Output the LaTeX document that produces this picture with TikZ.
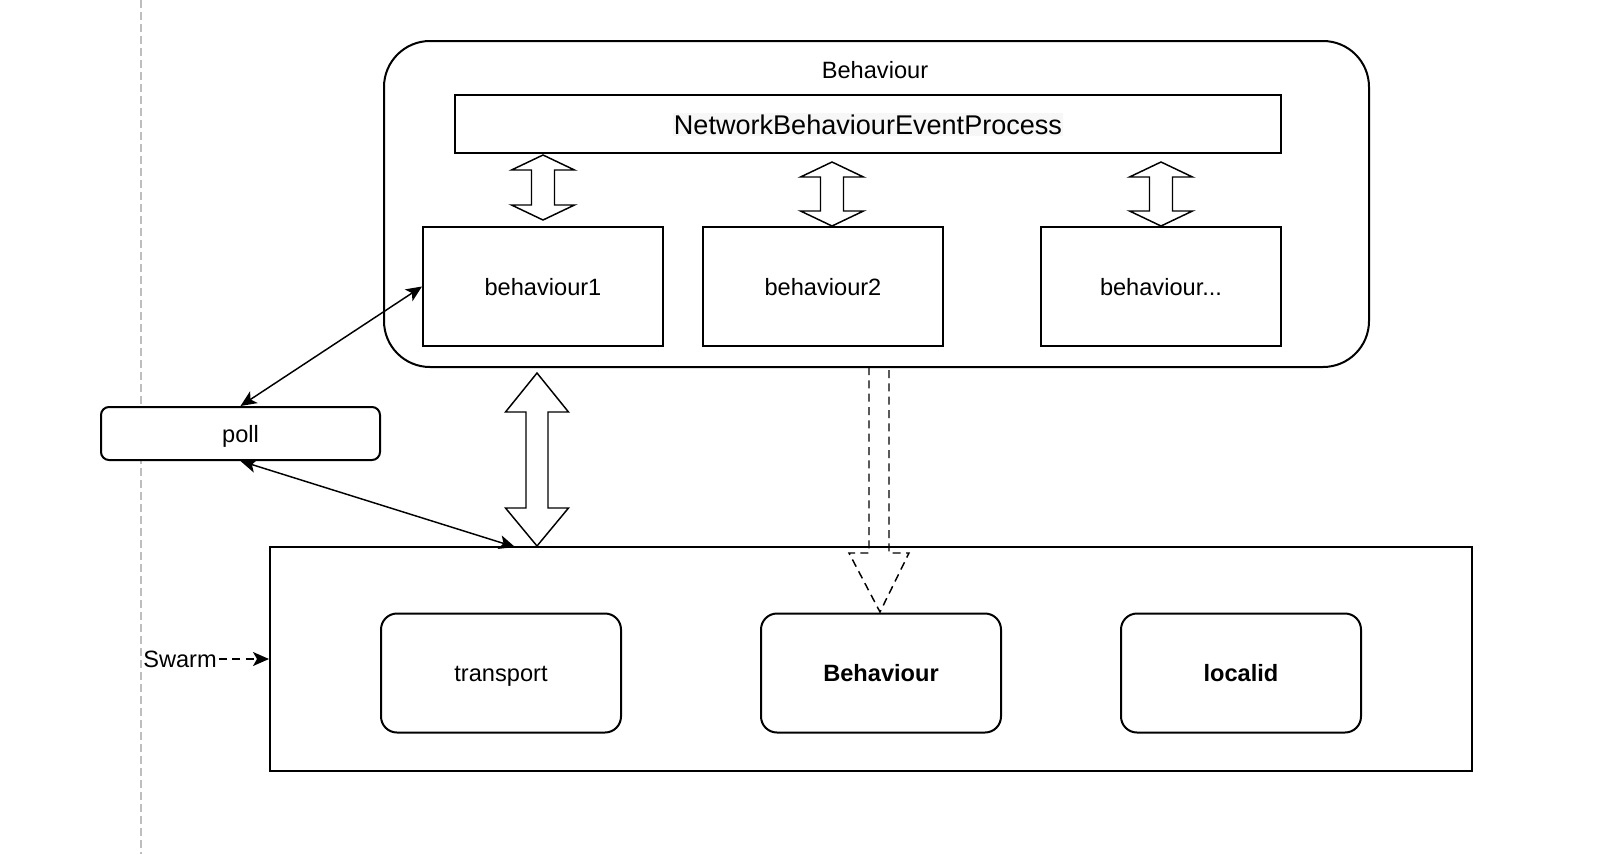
\documentclass[tikz,border=0pt]{standalone}
\usepackage{fontspec}
\setmainfont{Liberation Sans}
\usetikzlibrary{arrows.meta}
\definecolor{guidegray}{RGB}{190,190,190}
\definecolor{procbg}{RGB}{247,247,247}
\newcommand{\lblfont}{\fontsize{17.7pt}{21pt}\selectfont}
\newcommand{\procfont}{\fontsize{20.3pt}{24pt}\selectfont}

\begin{document}
\begin{tikzpicture}[x=0.75pt,y=0.75pt,yscale=-1,xscale=1,
  lbl/.style={font=\lblfont, text height=15pt, text depth=2pt},
  plainbox/.style={draw, line width=1.5pt, minimum width=180pt, minimum height=89.25pt, inner sep=0pt, lbl},
  softbox/.style={plainbox, rounded corners=12pt, fill=white},
  blockarrow/.style={draw, line width=1.1pt, line join=miter, fill=white},
  tip/.style={Stealth[length=12pt,width=10.5pt,inset=3pt]},
  link/.style={line width=1.1pt, {Stealth[length=12pt,width=10.5pt,inset=3pt]}-{Stealth[length=12pt,width=10.5pt,inset=3pt]}}
  ]
\useasboundingbox (0,0) rectangle (1606,854);

%Straight Lines (guide)
\draw [color=guidegray, line width=1.1pt, dash pattern=on 6pt off 3pt] (141,0) -- (141,854);

%Rounded Rect (container)
\node [draw, line width=1.5pt, rounded corners=34.5pt, minimum width=738.75pt, minimum height=244.5pt] (beh) at (876.5,204) {};
% Text Node
\node [lbl, inner sep=0.75pt] (behlbl) at (875,70) {Behaviour};
%Shape: Rectangle
\node [plainbox, minimum width=619.5pt, minimum height=43.5pt, font=\procfont, text height=17pt, text depth=2pt] (nbep) at (868,124) {\setlength{\fboxsep}{1pt}\colorbox{procbg}{NetworkBehaviourEventProcess}};

%Shape: Rectangle
\node [plainbox] (b1) at (543,286.5) {behaviour1};
%Shape: Rectangle
\node [plainbox] (b2) at (823,286.5) {behaviour2};
%Shape: Rectangle
\node [plainbox] (b3) at (1161,286.5) {behaviour...};

%Up Down Arrow
\draw [blockarrow] (543,155) -- (574.5,170) -- (554.5,170) -- (554.5,205) -- (574.5,205) -- (543,220) -- (511.5,205) -- (531.5,205) -- (531.5,170) -- (511.5,170) -- cycle ;
%Up Down Arrow
\draw [blockarrow] (832,162) -- (863.5,177) -- (843.5,177) -- (843.5,211) -- (863.5,211) -- (832,226) -- (800.5,211) -- (820.5,211) -- (820.5,177) -- (800.5,177) -- cycle ;
%Up Down Arrow
\draw [blockarrow] (1161,162) -- (1192.5,177) -- (1172.5,177) -- (1172.5,211) -- (1192.5,211) -- (1161,226) -- (1129.5,211) -- (1149.5,211) -- (1149.5,177) -- (1129.5,177) -- cycle ;

%Shape: Rectangle (swarm)
\node [plainbox, minimum width=901.5pt, minimum height=168pt] (swarm) at (871,659) {};
%Rounded Rect
\node [softbox] (transport) at (501,673) {transport};
%Rounded Rect
\node [softbox, font=\lblfont\bfseries] (behbold) at (881,673) {Behaviour};
%Rounded Rect
\node [softbox, font=\lblfont\bfseries] (localid) at (1241,673) {localid};

%Up Down Arrow (big)
\draw [blockarrow] (537,373) -- (568.5,412) -- (548,412) -- (548,508) -- (568.5,508) -- (537,546) -- (505.5,508) -- (526,508) -- (526,412) -- (505.5,412) -- cycle ;
%Down Arrow (dashed)
\draw [line width=1.1pt, dash pattern=on 6pt off 4pt] (869,367) -- (869,553) -- (849,553) -- (880,612) -- (909,553) -- (889,553) -- (889,367) ;

%Rounded Rect
\node [softbox, rounded corners=6pt, minimum width=209.25pt, minimum height=39.75pt] (poll) at (240.5,433.5) {poll};
\coordinate (swarmin) at (515,547);

%Straight Lines
\draw [link] (b1.west) -- (poll.north) ;
%Straight Lines
\draw [link] (poll.south) -- (swarmin) ;

% Text Node
\node [lbl, inner sep=1.5pt] (swarmlbl) at (180,659) {Swarm};
%Straight Lines
\draw [line width=1.1pt, dash pattern=on 6pt off 4pt, -{Stealth[length=12pt,width=10.5pt,inset=3pt]}] (swarmlbl) -- (swarm) ;

\end{tikzpicture}
\end{document}
